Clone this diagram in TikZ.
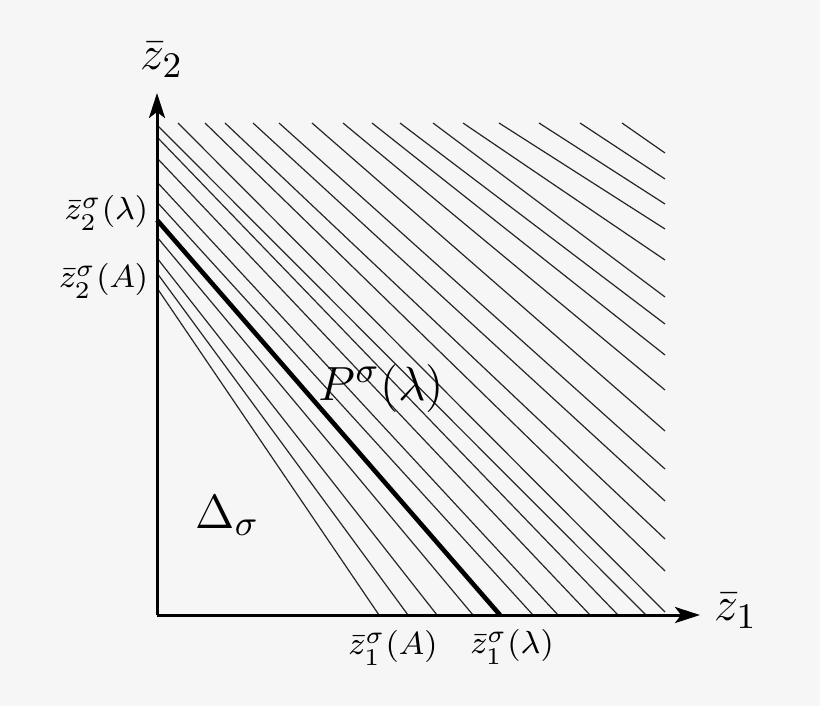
\documentclass[tikz,border=0pt]{standalone}
\usetikzlibrary{arrows.meta}
\definecolor{bgcol}{RGB}{246,246,246}
\begin{document}
\begin{tikzpicture}[x=0.25pt,y=-0.25pt,
  hatch/.style={line width=0.3pt, draw=black!85},
  axisline/.style={line width=0.75pt, -{Stealth[length=6.25pt,width=4pt,inset=1.5pt]}},
  boundary/.style={line width=1.15pt},
  biglabel/.style={font=\fontsize{12.2}{14}\selectfont, inner sep=0pt},
  smalllabel/.style={font=\fontsize{8.5}{10}\selectfont, inner sep=0pt},
  regionlabel/.style={font=\fontsize{13}{15}\selectfont, inner sep=0pt}]
\fill[bgcol] (0,0) rectangle (820,706);
\useasboundingbox (0,0) rectangle (820,706);
% hatching
\foreach \xa/\ya/\xb/\yb in {
  157/288/379/615, 157/273/408/615, 157/258/437/615, 157/237/473/615,
  157/202/533/615, 157/182/558/615, 157/158/590/615, 157/137/618/615,
  157/125/646/615, 178/123/665/612, 205/123/665/571, 225/123/665/539,
  253/123/665/501, 279/123/665/469, 312/123/665/431, 343/123/665/390,
  372/123/665/355, 400/123/665/324, 433/123/665/297, 463/123/665/260,
  499/123/665/229, 539/123/665/204, 580/123/665/179, 622/123/665/153}
  \draw[hatch] (\xa,\ya) -- (\xb,\yb);
% boundary P
\coordinate (Ptop) at (157,220);
\coordinate (Pbot) at (500,615);
\draw[boundary] (Ptop) -- (Pbot);
% axes
\coordinate (O) at (157,615);
\coordinate (Xend) at (700,615);
\coordinate (Yend) at (157,93);
\draw[axisline] (O) -- (Xend);
\draw[axisline] (O) -- (Yend);
% labels
\node[biglabel] (z2) at (162,60) {$\bar z_2$};
\node[biglabel, anchor=west] (z1) at (714,611) {$\bar z_1$};
\node[smalllabel, anchor=east] (z2lam) at (149,213) {$\bar z_2^\sigma(\lambda)$};
\node[smalllabel, anchor=east] (z2A) at (149,281) {$\bar z_2^\sigma(A)$};
\node[smalllabel] (z1A) at (393,648) {$\bar z_1^\sigma(A)$};
\node[smalllabel] (z1lam) at (512,647) {$\bar z_1^\sigma(\lambda)$};
\node[regionlabel, anchor=base west] (delta) at (195,528) {$\Delta_\sigma$};
\node[regionlabel, anchor=base west] (Plab) at (318,400) {$P^\sigma(\lambda)$};
\end{tikzpicture}
\end{document}
